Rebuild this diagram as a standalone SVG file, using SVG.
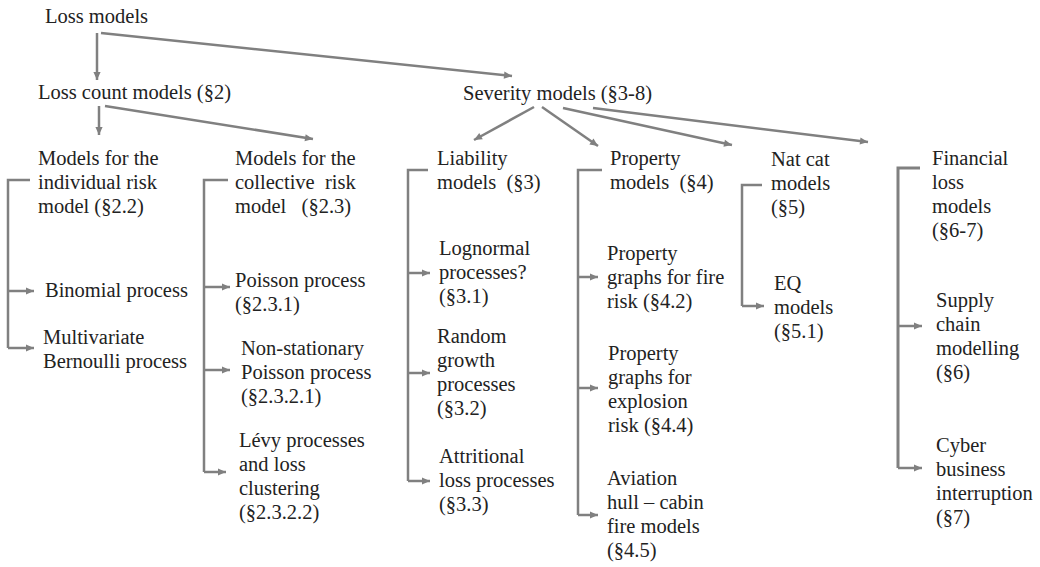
<svg xmlns="http://www.w3.org/2000/svg" width="1040" height="567" viewBox="0 0 1040 567">
<style>
text{font-family:"Liberation Serif","Times New Roman",serif;font-size:20.5px;fill:#222}
.c line,.c path{stroke:#808080;stroke-width:2.5;fill:none}
</style>
<defs>
<marker id="ah" viewBox="0 0 10 10" refX="10" refY="5" markerWidth="9" markerHeight="8" markerUnits="userSpaceOnUse" orient="auto">
<path d="M0,0.5 L10,5 L0,9.5 z" fill="#808080"/>
</marker>
</defs>
<rect width="1040" height="567" fill="#fff"/>
<g class="c" id="connectors">
<line x1="97" y1="33" x2="97" y2="80" marker-end="url(#ah)"/>
<line x1="101" y1="33" x2="512" y2="76" marker-end="url(#ah)"/>
<line x1="99" y1="106" x2="99" y2="135" marker-end="url(#ah)"/>
<line x1="105" y1="106" x2="313" y2="139" marker-end="url(#ah)"/>
<line x1="534" y1="107" x2="474" y2="140" marker-end="url(#ah)"/>
<line x1="542" y1="107" x2="598" y2="146" marker-end="url(#ah)"/>
<line x1="563" y1="108" x2="732" y2="145" marker-end="url(#ah)"/>
<line x1="593" y1="108" x2="868" y2="142" marker-end="url(#ah)"/>
<path d="M30,180 H8 V348"/>
<line x1="8" y1="291" x2="34" y2="291" marker-end="url(#ah)"/>
<line x1="8" y1="348" x2="34" y2="348" marker-end="url(#ah)"/>
<path d="M228,180 H204 V472"/>
<line x1="204" y1="287" x2="230" y2="287" marker-end="url(#ah)"/>
<line x1="204" y1="370" x2="230" y2="370" marker-end="url(#ah)"/>
<line x1="204" y1="472" x2="226" y2="472" marker-end="url(#ah)"/>
<path d="M428,170 H408 V481"/>
<line x1="408" y1="273" x2="430" y2="273" marker-end="url(#ah)"/>
<line x1="408" y1="373" x2="430" y2="373" marker-end="url(#ah)"/>
<line x1="408" y1="481" x2="430" y2="481" marker-end="url(#ah)"/>
<path d="M602,170 H578 V515"/>
<line x1="578" y1="277" x2="598" y2="277" marker-end="url(#ah)"/>
<line x1="578" y1="388" x2="598" y2="388" marker-end="url(#ah)"/>
<line x1="578" y1="515" x2="598" y2="515" marker-end="url(#ah)"/>
<path d="M762,185 H742 V306"/>
<line x1="742" y1="306" x2="764" y2="306" marker-end="url(#ah)"/>
<path d="M920,168 H898 V468" style="stroke-width:3"/>
<line x1="898" y1="326" x2="922" y2="326" marker-end="url(#ah)"/>
<line x1="898" y1="468" x2="922" y2="468" marker-end="url(#ah)"/>
</g>
<g id="loss-models"><text x="45" y="23">Loss models</text></g>
<g id="loss-count"><text x="38" y="99">Loss count models (§2)</text></g>
<g id="severity"><text x="463" y="100">Severity models (§3-8)</text></g>
<g id="individual"><text x="38" y="165">Models for the</text><text x="38" y="189">individual risk</text><text x="38" y="213">model (§2.2)</text></g>
<g id="binomial"><text x="45" y="297">Binomial process</text></g>
<g id="bernoulli"><text x="43" y="344">Multivariate</text><text x="43" y="368">Bernoulli process</text></g>
<g id="collective"><text x="235" y="165">Models for the</text><text x="235" y="189" xml:space="preserve">collective  risk</text><text x="235" y="213" xml:space="preserve">model   (§2.3)</text></g>
<g id="poisson"><text x="235" y="287">Poisson process</text><text x="235" y="311">(§2.3.1)</text></g>
<g id="nonstat"><text x="241" y="355">Non-stationary</text><text x="241" y="379">Poisson process</text><text x="241" y="403">(§2.3.2.1)</text></g>
<g id="levy"><text x="239" y="447">Lévy processes</text><text x="239" y="471">and loss</text><text x="239" y="495">clustering</text><text x="239" y="519">(§2.3.2.2)</text></g>
<g id="liability"><text x="437" y="165">Liability</text><text x="437" y="189" xml:space="preserve">models  (§3)</text></g>
<g id="lognormal"><text x="439" y="255">Lognormal</text><text x="439" y="279">processes?</text><text x="439" y="303">(§3.1)</text></g>
<g id="random"><text x="437" y="343">Random</text><text x="437" y="367">growth</text><text x="437" y="391">processes</text><text x="437" y="415">(§3.2)</text></g>
<g id="attritional"><text x="439" y="463">Attritional</text><text x="439" y="487">loss processes</text><text x="439" y="511">(§3.3)</text></g>
<g id="property"><text x="610" y="165">Property</text><text x="610" y="189" xml:space="preserve">models  (§4)</text></g>
<g id="fire"><text x="607" y="260">Property</text><text x="607" y="284">graphs for fire</text><text x="607" y="308">risk (§4.2)</text></g>
<g id="explosion"><text x="608" y="360">Property</text><text x="608" y="384">graphs for</text><text x="608" y="408">explosion</text><text x="608" y="432">risk (§4.4)</text></g>
<g id="aviation"><text x="607" y="485">Aviation</text><text x="607" y="509">hull – cabin</text><text x="607" y="533">fire models</text><text x="607" y="557">(§4.5)</text></g>
<g id="natcat"><text x="771" y="166">Nat cat</text><text x="771" y="190">models</text><text x="771" y="214">(§5)</text></g>
<g id="eq"><text x="774" y="290">EQ</text><text x="774" y="314">models</text><text x="774" y="338">(§5.1)</text></g>
<g id="financial"><text x="932" y="165">Financial</text><text x="932" y="189">loss</text><text x="932" y="213">models</text><text x="932" y="237">(§6-7)</text></g>
<g id="supply"><text x="936" y="307">Supply</text><text x="936" y="331">chain</text><text x="936" y="355">modelling</text><text x="936" y="379">(§6)</text></g>
<g id="cyber"><text x="936" y="452">Cyber</text><text x="936" y="476">business</text><text x="936" y="500">interruption</text><text x="936" y="524">(§7)</text></g>
</svg>
